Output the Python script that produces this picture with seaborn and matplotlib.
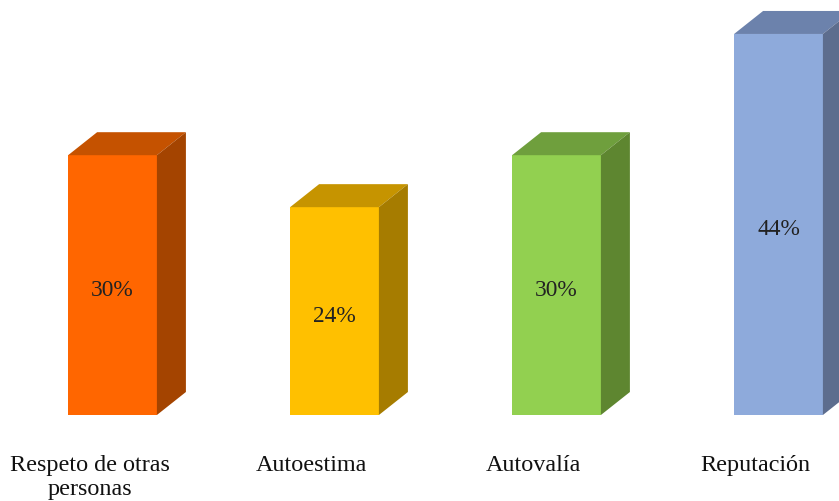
import matplotlib
matplotlib.use("Agg")
import matplotlib.pyplot as plt
import seaborn as sns
import pandas as pd
from matplotlib.patches import Polygon

categories = ["Respeto de otras\npersonas", "Autoestima", "Autovalía", "Reputación"]
values = [30, 24, 30, 44]
labels = ["30%", "24%", "30%", "44%"]
front_colors = ["#FF6600", "#FFC000", "#92D050", "#8EAADB"]
top_colors = ["#C55200", "#C69400", "#6F9F3D", "#6C82AC"]
side_colors = ["#A44400", "#A67C00", "#5E8630", "#5D6D8E"]

sns.set_theme(style="white")
plt.rcParams["font.family"] = ["Liberation Serif", "DejaVu Serif"]

df = pd.DataFrame({"cat": categories, "val": values})

fig = plt.figure(figsize=(8.39, 5.02), dpi=100)
ax = fig.add_axes([0, 86 / 502, 1, 416 / 502])
sns.barplot(data=df, x="cat", y="val", hue="cat", palette=front_colors,
            width=0.4, legend=False, ax=ax, saturation=1, linewidth=0)

ax.set_xlim(-0.5068, 3.2725)
ax.set_ylim(0, 416 / 8.66)

# depth offsets in data units
dx = 29 / 222
dy = 23 / 8.66

for i, p in enumerate(ax.patches):
    x0 = p.get_x()
    x1 = x0 + p.get_width()
    h = p.get_height()
    top = Polygon([(x0, h), (x1, h), (x1 + dx, h + dy), (x0 + dx, h + dy)],
                  closed=True, facecolor=top_colors[i], edgecolor="none")
    side = Polygon([(x1, 0), (x1, h), (x1 + dx, h + dy), (x1 + dx, dy)],
                   closed=True, facecolor=side_colors[i], edgecolor="none")
    ax.add_patch(top)
    ax.add_patch(side)
    ax.text((x0 + x1) / 2, h / 2 - 0.5, labels[i], ha="center", va="center",
            fontsize=16.8, color="#222222")

for s in ax.spines.values():
    s.set_visible(False)
ax.set_yticks([])
ax.set_xlabel("")
ax.set_ylabel("")
shift = 23 / 222
ax.set_xticks([i - shift for i in range(len(categories))])
ax.set_xticklabels(categories)
ax.tick_params(axis="x", length=0, pad=28, labelsize=17.4, colors="#111111")
for t in ax.get_xticklabels():
    t.set_linespacing(1.22)
    t.set_ha("center")

fig.savefig("out.png", dpi=100)
